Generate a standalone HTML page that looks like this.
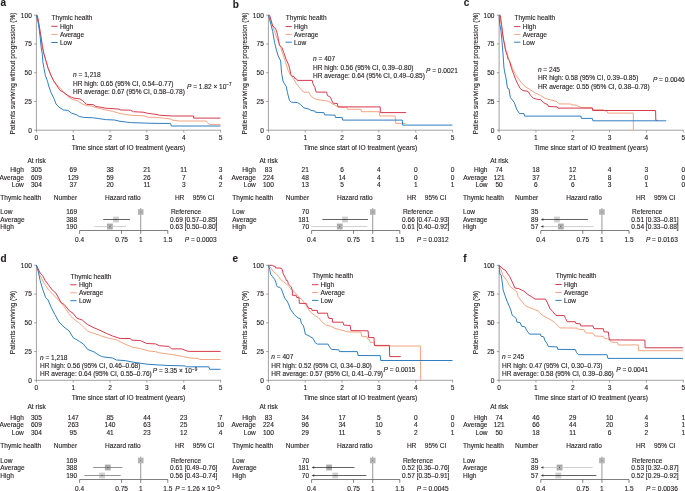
<!DOCTYPE html>
<html><head><meta charset="utf-8"><style>
html,body{margin:0;padding:0;background:#fff;width:685px;height:491px;overflow:hidden}
svg{display:block;will-change:transform}
svg{font-family:"Liberation Sans",sans-serif;font-size:6.55px;fill:#231f20} text{stroke:#231f20;stroke-width:0.12px}
</style></head><body>
<svg width="685" height="491" viewBox="0 0 685 491">
<rect width="685" height="491" fill="#fff"/>
<text x="0.40" y="6.20" font-weight="bold" font-size="10">a</text>
<line x1="36.40" y1="14.80" x2="36.40" y2="130.60" stroke="#8a8a8a" stroke-width="0.8"/>
<line x1="36.00" y1="130.20" x2="220.95" y2="130.20" stroke="#8a8a8a" stroke-width="0.8"/>
<line x1="34.20" y1="130.20" x2="36.40" y2="130.20" stroke="#8a8a8a" stroke-width="0.8"/>
<text x="31.80" y="132.50" text-anchor="end">0</text>
<line x1="34.20" y1="101.45" x2="36.40" y2="101.45" stroke="#8a8a8a" stroke-width="0.8"/>
<text x="31.80" y="103.75" text-anchor="end">25</text>
<line x1="34.20" y1="72.70" x2="36.40" y2="72.70" stroke="#8a8a8a" stroke-width="0.8"/>
<text x="31.80" y="75.00" text-anchor="end">50</text>
<line x1="34.20" y1="43.95" x2="36.40" y2="43.95" stroke="#8a8a8a" stroke-width="0.8"/>
<text x="31.80" y="46.25" text-anchor="end">75</text>
<line x1="34.20" y1="15.20" x2="36.40" y2="15.20" stroke="#8a8a8a" stroke-width="0.8"/>
<text x="31.80" y="17.50" text-anchor="end">100</text>
<line x1="36.40" y1="130.20" x2="36.40" y2="132.40" stroke="#8a8a8a" stroke-width="0.8"/>
<text x="36.40" y="139.80" text-anchor="middle">0</text>
<line x1="73.23" y1="130.20" x2="73.23" y2="132.40" stroke="#8a8a8a" stroke-width="0.8"/>
<text x="73.23" y="139.80" text-anchor="middle">1</text>
<line x1="110.06" y1="130.20" x2="110.06" y2="132.40" stroke="#8a8a8a" stroke-width="0.8"/>
<text x="110.06" y="139.80" text-anchor="middle">2</text>
<line x1="146.89" y1="130.20" x2="146.89" y2="132.40" stroke="#8a8a8a" stroke-width="0.8"/>
<text x="146.89" y="139.80" text-anchor="middle">3</text>
<line x1="183.72" y1="130.20" x2="183.72" y2="132.40" stroke="#8a8a8a" stroke-width="0.8"/>
<text x="183.72" y="139.80" text-anchor="middle">4</text>
<line x1="220.55" y1="130.20" x2="220.55" y2="132.40" stroke="#8a8a8a" stroke-width="0.8"/>
<text x="220.55" y="139.80" text-anchor="middle">5</text>
<text x="128.47" y="149.70" text-anchor="middle">Time since start of IO treatment (years)</text>
<text x="15.10" y="73.50" text-anchor="middle" transform="rotate(-90 15.10 73.50)">Patients surviving without progression (%)</text>
<text x="51.60" y="19.80">Thymic health</text>
<line x1="51.30" y1="26.30" x2="57.60" y2="26.30" stroke="#d63a4e" stroke-width="1.0"/>
<text x="59.90" y="28.60">High</text>
<line x1="51.30" y1="34.40" x2="57.60" y2="34.40" stroke="#f4a582" stroke-width="1.0"/>
<text x="59.90" y="36.70">Average</text>
<line x1="51.30" y1="42.50" x2="57.60" y2="42.50" stroke="#2f7fc0" stroke-width="1.0"/>
<text x="59.90" y="44.80">Low</text>
<text x="73.10" y="77.20"><tspan font-style="italic">n</tspan> = 1,218</text>
<text x="73.10" y="85.50">HR high: 0.65 (95% CI, 0.54–0.77)</text>
<text x="73.10" y="93.80">HR average: 0.67 (95% CI, 0.58–0.78)</text>
<text x="187.00" y="88.60"><tspan font-style="italic">P</tspan> = 1.82 × 10<tspan dy="-2.6" font-size="4.6">−7</tspan></text>
<polyline points="36.4,15.2 37.3,15.5 38.9,24.2 40.9,36.4 42.5,47.1 44.0,54.2 46.1,61.4 48.2,68.5 51.1,75.6 53.9,81.3 56.8,84.8 60.0,87.6 63.5,92.0 67.9,96.4 72.3,99.4 77.5,100.8 81.9,103.8 86.3,105.6 91.5,106.0 96.8,107.8 103.8,109.5 112.5,111.3 120.0,113.5 130.5,115.2 143.1,115.8 147.9,117.2 156.0,117.4 164.7,118.3 170.9,119.1 171.9,120.0 179.1,121.0 206.1,121.0 208.0,123.4 209.5,124.4 220.5,124.4" fill="none" stroke="#f4a582" stroke-width="1.0" stroke-linejoin="round"/>
<polyline points="36.4,15.2 37.3,15.5 38.9,24.2 40.9,36.4 42.5,47.1 44.0,54.2 46.1,61.4 48.2,68.5 51.1,75.6 53.9,81.3 56.8,85.6 60.0,90.3 63.5,92.4 67.9,95.5 71.4,97.3 74.0,98.1 80.1,99.0 82.8,100.8 86.3,104.3 93.3,104.7 95.9,106.5 101.2,107.3 105.5,108.2 119.0,109.1 120.9,110.0 130.5,110.2 133.4,111.7 143.1,112.2 147.9,113.3 153.7,114.1 156.0,114.3 159.4,115.2 172.9,116.0 193.6,116.0 193.6,118.1 220.5,118.1" fill="none" stroke="#d63a4e" stroke-width="1.0" stroke-linejoin="round"/>
<polyline points="36.4,15.2 38.5,24.2 40.1,36.4 41.1,47.1 42.3,54.2 42.8,61.4 44.0,68.5 45.4,75.6 47.5,81.3 49.0,87.0 51.1,92.7 53.9,98.4 56.1,104.1 58.9,107.0 60.0,107.8 63.5,110.0 67.9,110.4 71.4,113.0 76.6,114.8 79.3,116.5 83.6,117.4 93.3,117.8 99.4,118.7 105.5,119.6 114.3,120.0 120.0,121.3 130.5,122.6 147.9,123.2 158.0,123.4 170.5,123.4 171.4,126.0 220.5,126.0" fill="none" stroke="#2f7fc0" stroke-width="1.0" stroke-linejoin="round"/>
<text x="27.50" y="162.60">At risk</text>
<text x="23.80" y="172.00" text-anchor="end">High</text>
<text x="36.40" y="172.00" text-anchor="middle">305</text>
<text x="73.23" y="172.00" text-anchor="middle">69</text>
<text x="110.06" y="172.00" text-anchor="middle">38</text>
<text x="146.89" y="172.00" text-anchor="middle">21</text>
<text x="183.72" y="172.00" text-anchor="middle">11</text>
<text x="220.55" y="172.00" text-anchor="middle">3</text>
<text x="23.80" y="179.55" text-anchor="end">Average</text>
<text x="36.40" y="179.55" text-anchor="middle">609</text>
<text x="73.23" y="179.55" text-anchor="middle">129</text>
<text x="110.06" y="179.55" text-anchor="middle">59</text>
<text x="146.89" y="179.55" text-anchor="middle">26</text>
<text x="183.72" y="179.55" text-anchor="middle">7</text>
<text x="220.55" y="179.55" text-anchor="middle">4</text>
<text x="23.80" y="187.10" text-anchor="end">Low</text>
<text x="36.40" y="187.10" text-anchor="middle">304</text>
<text x="73.23" y="187.10" text-anchor="middle">37</text>
<text x="110.06" y="187.10" text-anchor="middle">20</text>
<text x="146.89" y="187.10" text-anchor="middle">11</text>
<text x="183.72" y="187.10" text-anchor="middle">3</text>
<text x="220.55" y="187.10" text-anchor="middle">2</text>
<text x="0.35" y="199.70">Thymic health</text>
<text x="77.10" y="199.70" text-anchor="end">Number</text>
<text x="122.80" y="199.70" text-anchor="middle">Hazard ratio</text>
<text x="174.90" y="199.70">HR</text>
<text x="192.80" y="199.70">95% CI</text>
<text x="0.35" y="214.30">Low</text>
<text x="77.10" y="214.30" text-anchor="end">169</text>
<text x="0.35" y="221.60">Average</text>
<text x="77.10" y="221.60" text-anchor="end">388</text>
<text x="0.35" y="228.80">High</text>
<text x="77.10" y="228.80" text-anchor="end">190</text>
<line x1="79.60" y1="230.50" x2="167.80" y2="230.50" stroke="#555" stroke-width="0.75"/>
<line x1="79.60" y1="230.50" x2="79.60" y2="233.80" stroke="#555" stroke-width="0.75"/>
<text x="79.60" y="242.30" text-anchor="middle">0.4</text>
<line x1="121.55" y1="230.50" x2="121.55" y2="233.80" stroke="#555" stroke-width="0.75"/>
<text x="121.55" y="242.30" text-anchor="middle">0.75</text>
<line x1="140.74" y1="230.50" x2="140.74" y2="233.80" stroke="#555" stroke-width="0.75"/>
<text x="140.74" y="242.30" text-anchor="middle">1</text>
<line x1="167.80" y1="230.50" x2="167.80" y2="233.80" stroke="#555" stroke-width="0.75"/>
<text x="167.80" y="242.30" text-anchor="middle">1.5</text>
<line x1="140.74" y1="208.10" x2="140.74" y2="230.50" stroke="#777" stroke-width="0.75"/>
<rect x="137.94" y="209.20" width="5.60" height="5.60" fill="#b3b3b3"/>
<circle cx="140.74" cy="212.00" r="0.45" fill="#555"/>
<text x="170.90" y="214.30">Reference</text>
<rect x="113.08" y="216.60" width="5.80" height="5.80" fill="#cfcfcf"/>
<line x1="103.23" y1="219.50" x2="129.90" y2="219.50" stroke="#3a3a3a" stroke-width="0.8"/>
<circle cx="115.98" cy="219.50" r="0.5" fill="#333"/>
<text x="170.10" y="221.60">0.69 [0.57–0.85]</text>
<rect x="107.01" y="223.60" width="5.80" height="5.80" fill="#a9a9a9"/>
<line x1="94.49" y1="226.50" x2="125.85" y2="226.50" stroke="#c4c4c4" stroke-width="0.8"/>
<circle cx="109.91" cy="226.50" r="0.5" fill="#333"/>
<text x="170.10" y="228.80">0.63 [0.50–0.80]</text>
<text x="216.60" y="242.30" text-anchor="end"><tspan font-style="italic">P</tspan> = 0.0003</text>
<text x="232.80" y="8.00" font-weight="bold" font-size="10">b</text>
<line x1="268.40" y1="14.80" x2="268.40" y2="130.60" stroke="#8a8a8a" stroke-width="0.8"/>
<line x1="268.00" y1="130.20" x2="452.95" y2="130.20" stroke="#8a8a8a" stroke-width="0.8"/>
<line x1="266.20" y1="130.20" x2="268.40" y2="130.20" stroke="#8a8a8a" stroke-width="0.8"/>
<text x="263.80" y="132.50" text-anchor="end">0</text>
<line x1="266.20" y1="101.45" x2="268.40" y2="101.45" stroke="#8a8a8a" stroke-width="0.8"/>
<text x="263.80" y="103.75" text-anchor="end">25</text>
<line x1="266.20" y1="72.70" x2="268.40" y2="72.70" stroke="#8a8a8a" stroke-width="0.8"/>
<text x="263.80" y="75.00" text-anchor="end">50</text>
<line x1="266.20" y1="43.95" x2="268.40" y2="43.95" stroke="#8a8a8a" stroke-width="0.8"/>
<text x="263.80" y="46.25" text-anchor="end">75</text>
<line x1="266.20" y1="15.20" x2="268.40" y2="15.20" stroke="#8a8a8a" stroke-width="0.8"/>
<text x="263.80" y="17.50" text-anchor="end">100</text>
<line x1="268.40" y1="130.20" x2="268.40" y2="132.40" stroke="#8a8a8a" stroke-width="0.8"/>
<text x="268.40" y="139.80" text-anchor="middle">0</text>
<line x1="305.23" y1="130.20" x2="305.23" y2="132.40" stroke="#8a8a8a" stroke-width="0.8"/>
<text x="305.23" y="139.80" text-anchor="middle">1</text>
<line x1="342.06" y1="130.20" x2="342.06" y2="132.40" stroke="#8a8a8a" stroke-width="0.8"/>
<text x="342.06" y="139.80" text-anchor="middle">2</text>
<line x1="378.89" y1="130.20" x2="378.89" y2="132.40" stroke="#8a8a8a" stroke-width="0.8"/>
<text x="378.89" y="139.80" text-anchor="middle">3</text>
<line x1="415.72" y1="130.20" x2="415.72" y2="132.40" stroke="#8a8a8a" stroke-width="0.8"/>
<text x="415.72" y="139.80" text-anchor="middle">4</text>
<line x1="452.55" y1="130.20" x2="452.55" y2="132.40" stroke="#8a8a8a" stroke-width="0.8"/>
<text x="452.55" y="139.80" text-anchor="middle">5</text>
<text x="360.47" y="149.70" text-anchor="middle">Time since start of IO treatment (years)</text>
<text x="247.10" y="73.50" text-anchor="middle" transform="rotate(-90 247.10 73.50)">Patients surviving without progression (%)</text>
<text x="285.80" y="19.75">Thymic health</text>
<line x1="285.50" y1="26.60" x2="291.80" y2="26.60" stroke="#d63a4e" stroke-width="1.0"/>
<text x="294.10" y="28.90">High</text>
<line x1="285.50" y1="34.40" x2="291.80" y2="34.40" stroke="#f4a582" stroke-width="1.0"/>
<text x="294.10" y="36.70">Average</text>
<line x1="285.50" y1="42.20" x2="291.80" y2="42.20" stroke="#2f7fc0" stroke-width="1.0"/>
<text x="294.10" y="44.50">Low</text>
<text x="313.10" y="61.20"><tspan font-style="italic">n</tspan> = 407</text>
<text x="313.10" y="69.50">HR high: 0.56 (95% CI, 0.39–0.80)</text>
<text x="313.10" y="77.80">HR average: 0.64 (95% CI, 0.49–0.85)</text>
<text x="426.00" y="72.60"><tspan font-style="italic">P</tspan> = 0.0021</text>
<polyline points="268.4,15.2 269.0,15.4 273.3,27.9 275.8,35.2 278.2,41.3 280.7,47.5 283.1,54.8 285.6,62.1 286.6,66.0 288.2,70.5 290.1,74.5 293.4,78.4 296.0,83.2 298.9,86.8 301.9,90.5 304.1,92.2 308.8,92.3 309.9,94.2 312.1,97.1 315.1,98.9 318.0,99.8 325.3,100.5 329.0,101.5 330.5,102.6 332.7,104.1 335.6,105.5 337.8,106.6 340.0,107.3 347.0,107.3 347.5,109.3 361.0,109.3 361.5,111.7 379.3,111.7 379.8,116.0 395.2,116.0 395.7,123.4 405.6,123.4" fill="none" stroke="#f4a582" stroke-width="1.0" stroke-linejoin="round"/>
<polyline points="268.4,15.2 269.7,15.4 272.7,26.1 274.6,27.3 276.4,30.3 277.6,35.2 278.2,38.3 279.4,45.0 281.9,47.5 283.7,52.3 286.2,59.7 288.6,64.6 289.5,68.0 290.4,72.0 290.8,74.5 292.1,76.1 294.0,76.5 294.7,78.4 296.6,79.1 297.3,80.4 312.3,80.4 312.9,83.6 314.9,87.6 316.2,92.1 326.6,92.1 327.3,95.4 330.5,97.3 331.8,100.6 333.1,103.2 337.4,103.5 337.9,106.9 380.2,106.9 380.4,112.6 406.1,112.6" fill="none" stroke="#d63a4e" stroke-width="1.0" stroke-linejoin="round"/>
<polyline points="268.4,15.2 270.9,24.2 272.7,31.6 274.6,42.6 276.4,49.9 278.2,56.0 280.7,60.9 281.2,68.0 281.6,73.2 283.0,81.0 284.3,83.6 286.2,86.3 287.5,92.8 289.5,100.6 291.4,102.2 297.3,102.5 300.5,104.5 303.8,107.8 309.0,109.1 311.0,110.4 314.9,111.0 315.5,112.3 324.0,112.7 324.7,114.9 335.0,115.2 335.4,117.5 342.2,117.5 342.7,120.1 402.3,120.1 402.6,125.1 452.4,125.1" fill="none" stroke="#2f7fc0" stroke-width="1.0" stroke-linejoin="round"/>
<text x="259.50" y="162.60">At risk</text>
<text x="255.80" y="172.00" text-anchor="end">High</text>
<text x="268.40" y="172.00" text-anchor="middle">83</text>
<text x="305.23" y="172.00" text-anchor="middle">21</text>
<text x="342.06" y="172.00" text-anchor="middle">6</text>
<text x="378.89" y="172.00" text-anchor="middle">4</text>
<text x="415.72" y="172.00" text-anchor="middle">0</text>
<text x="452.55" y="172.00" text-anchor="middle">0</text>
<text x="255.80" y="179.55" text-anchor="end">Average</text>
<text x="268.40" y="179.55" text-anchor="middle">224</text>
<text x="305.23" y="179.55" text-anchor="middle">48</text>
<text x="342.06" y="179.55" text-anchor="middle">14</text>
<text x="378.89" y="179.55" text-anchor="middle">4</text>
<text x="415.72" y="179.55" text-anchor="middle">0</text>
<text x="452.55" y="179.55" text-anchor="middle">0</text>
<text x="255.80" y="187.10" text-anchor="end">Low</text>
<text x="268.40" y="187.10" text-anchor="middle">100</text>
<text x="305.23" y="187.10" text-anchor="middle">13</text>
<text x="342.06" y="187.10" text-anchor="middle">5</text>
<text x="378.89" y="187.10" text-anchor="middle">4</text>
<text x="415.72" y="187.10" text-anchor="middle">1</text>
<text x="452.55" y="187.10" text-anchor="middle">1</text>
<text x="232.35" y="199.70">Thymic health</text>
<text x="309.10" y="199.70" text-anchor="end">Number</text>
<text x="354.80" y="199.70" text-anchor="middle">Hazard ratio</text>
<text x="406.90" y="199.70">HR</text>
<text x="424.80" y="199.70">95% CI</text>
<text x="232.35" y="214.30">Low</text>
<text x="309.10" y="214.30" text-anchor="end">70</text>
<text x="232.35" y="221.60">Average</text>
<text x="309.10" y="221.60" text-anchor="end">181</text>
<text x="232.35" y="228.80">High</text>
<text x="309.10" y="228.80" text-anchor="end">70</text>
<line x1="311.60" y1="230.50" x2="399.80" y2="230.50" stroke="#555" stroke-width="0.75"/>
<line x1="311.60" y1="230.50" x2="311.60" y2="233.80" stroke="#555" stroke-width="0.75"/>
<text x="311.60" y="242.30" text-anchor="middle">0.4</text>
<line x1="353.55" y1="230.50" x2="353.55" y2="233.80" stroke="#555" stroke-width="0.75"/>
<text x="353.55" y="242.30" text-anchor="middle">0.75</text>
<line x1="372.74" y1="230.50" x2="372.74" y2="233.80" stroke="#555" stroke-width="0.75"/>
<text x="372.74" y="242.30" text-anchor="middle">1</text>
<line x1="399.80" y1="230.50" x2="399.80" y2="233.80" stroke="#555" stroke-width="0.75"/>
<text x="399.80" y="242.30" text-anchor="middle">1.5</text>
<line x1="372.74" y1="208.10" x2="372.74" y2="230.50" stroke="#777" stroke-width="0.75"/>
<rect x="369.94" y="209.20" width="5.60" height="5.60" fill="#b3b3b3"/>
<circle cx="372.74" cy="212.00" r="0.45" fill="#555"/>
<text x="402.90" y="214.30">Reference</text>
<rect x="342.12" y="216.60" width="5.80" height="5.80" fill="#cfcfcf"/>
<line x1="322.36" y1="219.50" x2="367.90" y2="219.50" stroke="#3a3a3a" stroke-width="0.8"/>
<circle cx="345.02" cy="219.50" r="0.5" fill="#333"/>
<text x="402.10" y="221.60">0.66 [0.47–0.93]</text>
<rect x="336.86" y="223.60" width="5.80" height="5.80" fill="#a9a9a9"/>
<line x1="311.60" y1="226.50" x2="367.18" y2="226.50" stroke="#c4c4c4" stroke-width="0.8"/>
<circle cx="339.76" cy="226.50" r="0.5" fill="#333"/>
<text x="402.10" y="228.80">0.61 [0.40–0.92]</text>
<text x="448.60" y="242.30" text-anchor="end"><tspan font-style="italic">P</tspan> = 0.0312</text>
<text x="463.70" y="6.20" font-weight="bold" font-size="10">c</text>
<line x1="499.10" y1="14.80" x2="499.10" y2="130.60" stroke="#8a8a8a" stroke-width="0.8"/>
<line x1="498.70" y1="130.20" x2="683.65" y2="130.20" stroke="#8a8a8a" stroke-width="0.8"/>
<line x1="496.90" y1="130.20" x2="499.10" y2="130.20" stroke="#8a8a8a" stroke-width="0.8"/>
<text x="494.50" y="132.50" text-anchor="end">0</text>
<line x1="496.90" y1="101.45" x2="499.10" y2="101.45" stroke="#8a8a8a" stroke-width="0.8"/>
<text x="494.50" y="103.75" text-anchor="end">25</text>
<line x1="496.90" y1="72.70" x2="499.10" y2="72.70" stroke="#8a8a8a" stroke-width="0.8"/>
<text x="494.50" y="75.00" text-anchor="end">50</text>
<line x1="496.90" y1="43.95" x2="499.10" y2="43.95" stroke="#8a8a8a" stroke-width="0.8"/>
<text x="494.50" y="46.25" text-anchor="end">75</text>
<line x1="496.90" y1="15.20" x2="499.10" y2="15.20" stroke="#8a8a8a" stroke-width="0.8"/>
<text x="494.50" y="17.50" text-anchor="end">100</text>
<line x1="499.10" y1="130.20" x2="499.10" y2="132.40" stroke="#8a8a8a" stroke-width="0.8"/>
<text x="499.10" y="139.80" text-anchor="middle">0</text>
<line x1="535.93" y1="130.20" x2="535.93" y2="132.40" stroke="#8a8a8a" stroke-width="0.8"/>
<text x="535.93" y="139.80" text-anchor="middle">1</text>
<line x1="572.76" y1="130.20" x2="572.76" y2="132.40" stroke="#8a8a8a" stroke-width="0.8"/>
<text x="572.76" y="139.80" text-anchor="middle">2</text>
<line x1="609.59" y1="130.20" x2="609.59" y2="132.40" stroke="#8a8a8a" stroke-width="0.8"/>
<text x="609.59" y="139.80" text-anchor="middle">3</text>
<line x1="646.42" y1="130.20" x2="646.42" y2="132.40" stroke="#8a8a8a" stroke-width="0.8"/>
<text x="646.42" y="139.80" text-anchor="middle">4</text>
<line x1="683.25" y1="130.20" x2="683.25" y2="132.40" stroke="#8a8a8a" stroke-width="0.8"/>
<text x="683.25" y="139.80" text-anchor="middle">5</text>
<text x="591.17" y="149.70" text-anchor="middle">Time since start of IO treatment (years)</text>
<text x="477.80" y="73.50" text-anchor="middle" transform="rotate(-90 477.80 73.50)">Patients surviving without progression (%)</text>
<text x="514.40" y="19.75">Thymic health</text>
<line x1="514.10" y1="26.60" x2="520.40" y2="26.60" stroke="#d63a4e" stroke-width="1.0"/>
<text x="522.70" y="28.90">High</text>
<line x1="514.10" y1="34.40" x2="520.40" y2="34.40" stroke="#f4a582" stroke-width="1.0"/>
<text x="522.70" y="36.70">Average</text>
<line x1="514.10" y1="42.20" x2="520.40" y2="42.20" stroke="#2f7fc0" stroke-width="1.0"/>
<text x="522.70" y="44.50">Low</text>
<text x="537.90" y="71.90"><tspan font-style="italic">n</tspan> = 245</text>
<text x="537.90" y="80.20">HR high: 0.58 (95% CI, 0.39–0.85)</text>
<text x="537.90" y="88.50">HR average: 0.55 (95% CI, 0.38–0.78)</text>
<text x="652.90" y="82.40"><tspan font-style="italic">P</tspan> = 0.0046</text>
<polyline points="499.1,15.2 499.7,15.4 501.5,26.7 503.3,38.9 505.2,48.7 507.0,52.3 508.2,57.2 509.4,60.9 511.3,64.6 512.4,68.0 515.6,74.5 520.1,81.0 524.7,86.3 529.9,89.5 535.1,92.8 540.3,95.4 545.5,98.6 550.8,99.9 556.0,101.2 559.2,103.9 571.2,104.0 571.7,104.9 577.0,105.2 578.0,106.4 580.4,106.9 580.9,107.6 592.4,107.6 592.9,109.7 603.5,109.7 604.5,110.7 606.9,111.2 607.8,113.1 633.3,113.1 633.4,130.2" fill="none" stroke="#f4a582" stroke-width="1.0" stroke-linejoin="round"/>
<polyline points="499.1,15.2 500.3,15.4 501.5,24.2 502.7,34.0 503.7,40.0 505.8,51.4 507.3,55.7 508.0,59.2 509.4,60.7 511.5,68.5 513.7,74.2 515.8,79.9 517.9,84.2 520.1,88.4 522.9,90.6 527.9,91.3 530.8,95.6 533.6,98.4 536.5,99.1 540.7,99.8 543.6,102.7 547.9,104.8 548.4,106.5 557.3,106.9 557.9,108.1 592.4,108.1 592.7,110.5 655.6,110.5 655.8,120.4 657.8,120.4" fill="none" stroke="#d63a4e" stroke-width="1.0" stroke-linejoin="round"/>
<polyline points="499.1,15.2 499.7,24.2 500.9,30.3 502.1,42.6 503.1,54.8 503.9,67.0 504.6,71.9 505.8,77.1 507.5,88.2 509.0,88.9 510.3,97.3 512.3,99.9 514.3,102.6 516.9,109.7 519.5,113.6 524.0,113.6 524.7,116.1 580.9,116.1 581.3,118.4 592.4,118.4 592.9,120.8 666.2,120.8" fill="none" stroke="#2f7fc0" stroke-width="1.0" stroke-linejoin="round"/>
<text x="490.20" y="162.60">At risk</text>
<text x="487.50" y="172.00" text-anchor="end">High</text>
<text x="499.10" y="172.00" text-anchor="middle">74</text>
<text x="535.93" y="172.00" text-anchor="middle">18</text>
<text x="572.76" y="172.00" text-anchor="middle">12</text>
<text x="609.59" y="172.00" text-anchor="middle">4</text>
<text x="646.42" y="172.00" text-anchor="middle">3</text>
<text x="683.25" y="172.00" text-anchor="middle">0</text>
<text x="487.50" y="179.55" text-anchor="end">Average</text>
<text x="499.10" y="179.55" text-anchor="middle">121</text>
<text x="535.93" y="179.55" text-anchor="middle">37</text>
<text x="572.76" y="179.55" text-anchor="middle">21</text>
<text x="609.59" y="179.55" text-anchor="middle">8</text>
<text x="646.42" y="179.55" text-anchor="middle">0</text>
<text x="683.25" y="179.55" text-anchor="middle">0</text>
<text x="487.50" y="187.10" text-anchor="end">Low</text>
<text x="499.10" y="187.10" text-anchor="middle">50</text>
<text x="535.93" y="187.10" text-anchor="middle">6</text>
<text x="572.76" y="187.10" text-anchor="middle">6</text>
<text x="609.59" y="187.10" text-anchor="middle">3</text>
<text x="646.42" y="187.10" text-anchor="middle">1</text>
<text x="683.25" y="187.10" text-anchor="middle">0</text>
<text x="463.05" y="199.70">Thymic health</text>
<text x="538.30" y="199.70" text-anchor="end">Number</text>
<text x="584.00" y="199.70" text-anchor="middle">Hazard ratio</text>
<text x="636.10" y="199.70">HR</text>
<text x="654.00" y="199.70">95% CI</text>
<text x="463.05" y="214.30">Low</text>
<text x="538.30" y="214.30" text-anchor="end">35</text>
<text x="463.05" y="221.60">Average</text>
<text x="538.30" y="221.60" text-anchor="end">89</text>
<text x="463.05" y="228.80">High</text>
<text x="538.30" y="228.80" text-anchor="end">57</text>
<line x1="540.80" y1="230.50" x2="629.00" y2="230.50" stroke="#555" stroke-width="0.75"/>
<line x1="540.80" y1="230.50" x2="540.80" y2="233.80" stroke="#555" stroke-width="0.75"/>
<text x="540.80" y="242.30" text-anchor="middle">0.4</text>
<line x1="582.75" y1="230.50" x2="582.75" y2="233.80" stroke="#555" stroke-width="0.75"/>
<text x="582.75" y="242.30" text-anchor="middle">0.75</text>
<line x1="601.94" y1="230.50" x2="601.94" y2="233.80" stroke="#555" stroke-width="0.75"/>
<text x="601.94" y="242.30" text-anchor="middle">1</text>
<line x1="629.00" y1="230.50" x2="629.00" y2="233.80" stroke="#555" stroke-width="0.75"/>
<text x="629.00" y="242.30" text-anchor="middle">1.5</text>
<line x1="601.94" y1="208.10" x2="601.94" y2="230.50" stroke="#777" stroke-width="0.75"/>
<rect x="599.14" y="209.20" width="5.60" height="5.60" fill="#b3b3b3"/>
<circle cx="601.94" cy="212.00" r="0.45" fill="#555"/>
<text x="632.10" y="214.30">Reference</text>
<rect x="554.11" y="216.60" width="5.80" height="5.80" fill="#cfcfcf"/>
<line x1="542.30" y1="219.50" x2="587.88" y2="219.50" stroke="#3a3a3a" stroke-width="0.8"/>
<path d="M540.80,219.50 L543.40,218.30 L543.40,220.70 Z" fill="#3a3a3a"/>
<circle cx="557.01" cy="219.50" r="0.5" fill="#333"/>
<text x="631.30" y="221.60">0.51 [0.33–0.81]</text>
<rect x="557.93" y="223.60" width="5.80" height="5.80" fill="#a9a9a9"/>
<line x1="542.30" y1="226.50" x2="593.41" y2="226.50" stroke="#c4c4c4" stroke-width="0.8"/>
<path d="M540.80,226.50 L543.40,225.30 L543.40,227.70 Z" fill="#3a3a3a"/>
<circle cx="560.83" cy="226.50" r="0.5" fill="#333"/>
<text x="631.30" y="228.80">0.54 [0.33–0.88]</text>
<text x="677.80" y="242.30" text-anchor="end"><tspan font-style="italic">P</tspan> = 0.0163</text>
<text x="0.40" y="262.30" font-weight="bold" font-size="10">d</text>
<line x1="36.40" y1="264.90" x2="36.40" y2="380.70" stroke="#8a8a8a" stroke-width="0.8"/>
<line x1="36.00" y1="380.30" x2="220.95" y2="380.30" stroke="#8a8a8a" stroke-width="0.8"/>
<line x1="34.20" y1="380.30" x2="36.40" y2="380.30" stroke="#8a8a8a" stroke-width="0.8"/>
<text x="31.80" y="382.60" text-anchor="end">0</text>
<line x1="34.20" y1="351.55" x2="36.40" y2="351.55" stroke="#8a8a8a" stroke-width="0.8"/>
<text x="31.80" y="353.85" text-anchor="end">25</text>
<line x1="34.20" y1="322.80" x2="36.40" y2="322.80" stroke="#8a8a8a" stroke-width="0.8"/>
<text x="31.80" y="325.10" text-anchor="end">50</text>
<line x1="34.20" y1="294.05" x2="36.40" y2="294.05" stroke="#8a8a8a" stroke-width="0.8"/>
<text x="31.80" y="296.35" text-anchor="end">75</text>
<line x1="34.20" y1="265.30" x2="36.40" y2="265.30" stroke="#8a8a8a" stroke-width="0.8"/>
<text x="31.80" y="267.60" text-anchor="end">100</text>
<line x1="36.40" y1="380.30" x2="36.40" y2="382.50" stroke="#8a8a8a" stroke-width="0.8"/>
<text x="36.40" y="389.90" text-anchor="middle">0</text>
<line x1="73.23" y1="380.30" x2="73.23" y2="382.50" stroke="#8a8a8a" stroke-width="0.8"/>
<text x="73.23" y="389.90" text-anchor="middle">1</text>
<line x1="110.06" y1="380.30" x2="110.06" y2="382.50" stroke="#8a8a8a" stroke-width="0.8"/>
<text x="110.06" y="389.90" text-anchor="middle">2</text>
<line x1="146.89" y1="380.30" x2="146.89" y2="382.50" stroke="#8a8a8a" stroke-width="0.8"/>
<text x="146.89" y="389.90" text-anchor="middle">3</text>
<line x1="183.72" y1="380.30" x2="183.72" y2="382.50" stroke="#8a8a8a" stroke-width="0.8"/>
<text x="183.72" y="389.90" text-anchor="middle">4</text>
<line x1="220.55" y1="380.30" x2="220.55" y2="382.50" stroke="#8a8a8a" stroke-width="0.8"/>
<text x="220.55" y="389.90" text-anchor="middle">5</text>
<text x="128.47" y="399.80" text-anchor="middle">Time since start of IO treatment (years)</text>
<text x="15.10" y="322.50" text-anchor="middle" transform="rotate(-90 15.10 322.50)">Patients surviving (%)</text>
<text x="70.60" y="278.50">Thymic health</text>
<line x1="70.30" y1="284.80" x2="76.60" y2="284.80" stroke="#d63a4e" stroke-width="1.0"/>
<text x="78.90" y="287.10">High</text>
<line x1="70.30" y1="292.80" x2="76.60" y2="292.80" stroke="#f4a582" stroke-width="1.0"/>
<text x="78.90" y="295.10">Average</text>
<line x1="70.30" y1="300.70" x2="76.60" y2="300.70" stroke="#2f7fc0" stroke-width="1.0"/>
<text x="78.90" y="303.00">Low</text>
<text x="40.00" y="359.60"><tspan font-style="italic">n</tspan> = 1,218</text>
<text x="40.00" y="367.90">HR high: 0.56 (95% CI, 0.46–0.68)</text>
<text x="40.00" y="376.20">HR average: 0.64 (95% CI, 0.55–0.76)</text>
<text x="152.70" y="373.20"><tspan font-style="italic">P</tspan> = 3.35 × 10<tspan dy="-2.6" font-size="4.6">−9</tspan></text>
<polyline points="36.4,265.3 39.5,274.2 43.8,282.8 48.7,290.1 53.5,295.0 58.4,299.9 63.3,305.4 67.0,310.9 70.6,315.8 72.5,318.0 75.7,320.6 79.6,323.2 83.5,327.1 87.5,331.0 92.7,333.0 99.2,335.0 100.0,335.6 107.6,337.9 116.4,339.8 125.2,344.2 132.8,347.3 140.4,348.6 149.2,351.1 155.5,351.7 159.3,352.8 173.2,354.7 183.4,356.6 190.7,358.1 198.0,358.4 199.5,359.5 220.6,359.5" fill="none" stroke="#f4a582" stroke-width="1.0" stroke-linejoin="round"/>
<polyline points="36.4,265.3 40.1,273.0 42.6,275.4 45.0,280.3 48.7,285.2 52.3,290.1 56.0,293.2 60.9,302.3 64.5,304.8 69.4,310.9 73.1,313.3 76.8,318.2 82.2,320.0 87.5,324.5 94.0,327.8 100.0,330.3 106.3,333.4 112.6,336.0 120.2,338.5 130.3,338.5 131.5,340.1 140.4,340.6 146.7,343.5 155.5,343.9 159.3,345.7 168.8,346.4 171.7,348.9 181.9,348.9 186.3,350.8 189.2,351.4 220.6,351.4" fill="none" stroke="#d63a4e" stroke-width="1.0" stroke-linejoin="round"/>
<polyline points="36.4,265.3 38.3,271.8 40.1,280.3 42.6,288.9 45.6,297.4 48.0,299.9 51.1,307.2 54.8,314.5 56.8,318.0 59.0,322.0 64.0,327.1 69.2,331.0 73.1,337.6 79.6,341.5 83.5,344.1 87.5,349.3 94.0,351.9 97.9,354.5 101.5,356.5 103.8,357.0 112.6,358.0 116.4,360.0 125.2,360.6 132.3,362.0 146.9,364.2 165.9,365.4 184.9,365.9 186.3,366.8 208.9,366.8 209.7,369.3 220.6,369.3" fill="none" stroke="#2f7fc0" stroke-width="1.0" stroke-linejoin="round"/>
<text x="27.50" y="409.30">At risk</text>
<text x="23.80" y="419.70" text-anchor="end">High</text>
<text x="36.40" y="419.70" text-anchor="middle">305</text>
<text x="73.23" y="419.70" text-anchor="middle">147</text>
<text x="110.06" y="419.70" text-anchor="middle">85</text>
<text x="146.89" y="419.70" text-anchor="middle">44</text>
<text x="183.72" y="419.70" text-anchor="middle">23</text>
<text x="220.55" y="419.70" text-anchor="middle">7</text>
<text x="23.80" y="427.35" text-anchor="end">Average</text>
<text x="36.40" y="427.35" text-anchor="middle">609</text>
<text x="73.23" y="427.35" text-anchor="middle">263</text>
<text x="110.06" y="427.35" text-anchor="middle">140</text>
<text x="146.89" y="427.35" text-anchor="middle">63</text>
<text x="183.72" y="427.35" text-anchor="middle">25</text>
<text x="220.55" y="427.35" text-anchor="middle">10</text>
<text x="23.80" y="435.00" text-anchor="end">Low</text>
<text x="36.40" y="435.00" text-anchor="middle">304</text>
<text x="73.23" y="435.00" text-anchor="middle">95</text>
<text x="110.06" y="435.00" text-anchor="middle">41</text>
<text x="146.89" y="435.00" text-anchor="middle">23</text>
<text x="183.72" y="435.00" text-anchor="middle">12</text>
<text x="220.55" y="435.00" text-anchor="middle">4</text>
<text x="0.35" y="447.90">Thymic health</text>
<text x="77.10" y="447.90" text-anchor="end">Number</text>
<text x="122.80" y="447.90" text-anchor="middle">Hazard ratio</text>
<text x="174.90" y="447.90">HR</text>
<text x="192.80" y="447.90">95% CI</text>
<text x="0.35" y="462.80">Low</text>
<text x="77.10" y="462.80" text-anchor="end">169</text>
<text x="0.35" y="470.20">Average</text>
<text x="77.10" y="470.20" text-anchor="end">388</text>
<text x="0.35" y="477.50">High</text>
<text x="77.10" y="477.50" text-anchor="end">190</text>
<line x1="79.60" y1="479.50" x2="167.80" y2="479.50" stroke="#555" stroke-width="0.75"/>
<line x1="79.60" y1="479.50" x2="79.60" y2="482.80" stroke="#555" stroke-width="0.75"/>
<text x="79.60" y="491.30" text-anchor="middle">0.4</text>
<line x1="121.55" y1="479.50" x2="121.55" y2="482.80" stroke="#555" stroke-width="0.75"/>
<text x="121.55" y="491.30" text-anchor="middle">0.75</text>
<line x1="140.74" y1="479.50" x2="140.74" y2="482.80" stroke="#555" stroke-width="0.75"/>
<text x="140.74" y="491.30" text-anchor="middle">1</text>
<line x1="167.80" y1="479.50" x2="167.80" y2="482.80" stroke="#555" stroke-width="0.75"/>
<text x="167.80" y="491.30" text-anchor="middle">1.5</text>
<line x1="140.74" y1="456.60" x2="140.74" y2="479.50" stroke="#777" stroke-width="0.75"/>
<rect x="137.94" y="457.70" width="5.60" height="5.60" fill="#b3b3b3"/>
<circle cx="140.74" cy="460.50" r="0.45" fill="#555"/>
<text x="170.90" y="462.80">Reference</text>
<rect x="104.86" y="464.60" width="5.80" height="5.80" fill="#a9a9a9"/>
<line x1="93.14" y1="467.50" x2="122.43" y2="467.50" stroke="#7a7a7a" stroke-width="0.8"/>
<circle cx="107.76" cy="467.50" r="0.5" fill="#333"/>
<text x="170.10" y="470.20">0.61 [0.49–0.76]</text>
<rect x="99.15" y="472.60" width="5.80" height="5.80" fill="#cfcfcf"/>
<line x1="84.43" y1="475.50" x2="120.65" y2="475.50" stroke="#7a7a7a" stroke-width="0.8"/>
<circle cx="102.05" cy="475.50" r="0.5" fill="#333"/>
<text x="170.10" y="477.50">0.56 [0.43–0.74]</text>
<text x="175.30" y="491.30"><tspan font-style="italic">P</tspan> = 1.26 × 10<tspan dy="-2.6" font-size="4.6">−5</tspan></text>
<text x="232.60" y="262.30" font-weight="bold" font-size="10">e</text>
<line x1="268.40" y1="264.90" x2="268.40" y2="380.70" stroke="#8a8a8a" stroke-width="0.8"/>
<line x1="268.00" y1="380.30" x2="452.95" y2="380.30" stroke="#8a8a8a" stroke-width="0.8"/>
<line x1="266.20" y1="380.30" x2="268.40" y2="380.30" stroke="#8a8a8a" stroke-width="0.8"/>
<text x="263.80" y="382.60" text-anchor="end">0</text>
<line x1="266.20" y1="351.55" x2="268.40" y2="351.55" stroke="#8a8a8a" stroke-width="0.8"/>
<text x="263.80" y="353.85" text-anchor="end">25</text>
<line x1="266.20" y1="322.80" x2="268.40" y2="322.80" stroke="#8a8a8a" stroke-width="0.8"/>
<text x="263.80" y="325.10" text-anchor="end">50</text>
<line x1="266.20" y1="294.05" x2="268.40" y2="294.05" stroke="#8a8a8a" stroke-width="0.8"/>
<text x="263.80" y="296.35" text-anchor="end">75</text>
<line x1="266.20" y1="265.30" x2="268.40" y2="265.30" stroke="#8a8a8a" stroke-width="0.8"/>
<text x="263.80" y="267.60" text-anchor="end">100</text>
<line x1="268.40" y1="380.30" x2="268.40" y2="382.50" stroke="#8a8a8a" stroke-width="0.8"/>
<text x="268.40" y="389.90" text-anchor="middle">0</text>
<line x1="305.23" y1="380.30" x2="305.23" y2="382.50" stroke="#8a8a8a" stroke-width="0.8"/>
<text x="305.23" y="389.90" text-anchor="middle">1</text>
<line x1="342.06" y1="380.30" x2="342.06" y2="382.50" stroke="#8a8a8a" stroke-width="0.8"/>
<text x="342.06" y="389.90" text-anchor="middle">2</text>
<line x1="378.89" y1="380.30" x2="378.89" y2="382.50" stroke="#8a8a8a" stroke-width="0.8"/>
<text x="378.89" y="389.90" text-anchor="middle">3</text>
<line x1="415.72" y1="380.30" x2="415.72" y2="382.50" stroke="#8a8a8a" stroke-width="0.8"/>
<text x="415.72" y="389.90" text-anchor="middle">4</text>
<line x1="452.55" y1="380.30" x2="452.55" y2="382.50" stroke="#8a8a8a" stroke-width="0.8"/>
<text x="452.55" y="389.90" text-anchor="middle">5</text>
<text x="360.47" y="399.80" text-anchor="middle">Time since start of IO treatment (years)</text>
<text x="247.10" y="322.50" text-anchor="middle" transform="rotate(-90 247.10 322.50)">Patients surviving (%)</text>
<text x="312.30" y="277.60">Thymic health</text>
<line x1="312.00" y1="284.70" x2="318.30" y2="284.70" stroke="#d63a4e" stroke-width="1.0"/>
<text x="320.60" y="287.00">High</text>
<line x1="312.00" y1="292.50" x2="318.30" y2="292.50" stroke="#f4a582" stroke-width="1.0"/>
<text x="320.60" y="294.80">Average</text>
<line x1="312.00" y1="300.40" x2="318.30" y2="300.40" stroke="#2f7fc0" stroke-width="1.0"/>
<text x="320.60" y="302.70">Low</text>
<text x="271.30" y="359.20"><tspan font-style="italic">n</tspan> = 407</text>
<text x="271.30" y="367.50">HR high: 0.52 (95% CI, 0.34–0.80)</text>
<text x="271.30" y="375.80">HR average: 0.57 (95% CI, 0.41–0.79)</text>
<text x="383.60" y="371.90"><tspan font-style="italic">P</tspan> = 0.0015</text>
<polyline points="268.4,265.3 270.8,267.9 273.3,271.5 276.3,274.1 278.8,276.7 280.7,279.6 283.6,281.8 286.5,284.0 288.7,286.2 290.9,289.1 293.1,290.9 295.3,292.8 298.1,296.5 302.2,299.8 306.3,305.9 310.4,312.0 314.4,315.2 318.5,317.7 322.6,322.6 325.8,325.0 330.7,326.2 334.8,328.3 340.2,329.8 348.8,332.0 360.9,332.0 361.6,336.2 367.1,336.9 367.8,339.1 369.3,339.5 370.0,342.4 373.7,342.7 375.1,346.0 420.4,346.0 420.7,380.3" fill="none" stroke="#f4a582" stroke-width="1.0" stroke-linejoin="round"/>
<polyline points="268.4,265.3 272.6,265.3 273.0,266.0 275.2,266.4 275.5,267.9 281.4,268.2 282.1,269.3 283.2,273.7 284.3,275.9 285.8,278.5 286.1,280.3 287.6,280.7 288.0,282.5 288.3,284.0 290.2,285.8 291.3,286.9 292.4,290.9 292.4,295.3 296.1,295.3 296.5,297.3 299.0,297.7 299.4,303.4 306.3,303.4 307.1,305.5 308.7,308.3 311.6,308.6 312.0,310.4 317.3,310.4 317.7,313.2 327.5,313.2 327.9,316.1 328.7,318.3 332.3,318.5 332.5,322.2 343.0,322.2 343.8,325.1 350.2,325.5 350.9,330.6 368.1,330.8 368.6,337.6 374.0,337.6 374.4,345.4 389.4,345.4 389.7,356.6 400.7,356.6" fill="none" stroke="#d63a4e" stroke-width="1.0" stroke-linejoin="round"/>
<polyline points="268.4,265.3 269.7,269.3 270.8,274.5 272.6,276.7 274.8,279.6 275.9,282.5 276.6,285.4 277.4,286.9 279.9,287.3 281.4,289.1 282.5,292.0 283.6,295.0 284.7,298.0 287.0,301.0 288.5,304.0 290.4,309.1 294.1,314.4 298.1,318.1 300.2,318.5 301.4,323.4 303.4,325.8 304.3,329.1 305.3,334.1 309.5,336.2 313.1,338.4 315.2,342.7 317.4,344.1 328.1,344.1 329.5,346.9 331.6,349.4 338.8,349.8 339.5,351.6 357.3,351.6 358.0,355.5 380.2,355.6 380.7,360.5 452.5,360.5" fill="none" stroke="#2f7fc0" stroke-width="1.0" stroke-linejoin="round"/>
<text x="259.50" y="409.30">At risk</text>
<text x="255.80" y="419.70" text-anchor="end">High</text>
<text x="268.40" y="419.70" text-anchor="middle">83</text>
<text x="305.23" y="419.70" text-anchor="middle">34</text>
<text x="342.06" y="419.70" text-anchor="middle">17</text>
<text x="378.89" y="419.70" text-anchor="middle">5</text>
<text x="415.72" y="419.70" text-anchor="middle">0</text>
<text x="452.55" y="419.70" text-anchor="middle">0</text>
<text x="255.80" y="427.35" text-anchor="end">Average</text>
<text x="268.40" y="427.35" text-anchor="middle">224</text>
<text x="305.23" y="427.35" text-anchor="middle">96</text>
<text x="342.06" y="427.35" text-anchor="middle">34</text>
<text x="378.89" y="427.35" text-anchor="middle">10</text>
<text x="415.72" y="427.35" text-anchor="middle">4</text>
<text x="452.55" y="427.35" text-anchor="middle">0</text>
<text x="255.80" y="435.00" text-anchor="end">Low</text>
<text x="268.40" y="435.00" text-anchor="middle">100</text>
<text x="305.23" y="435.00" text-anchor="middle">29</text>
<text x="342.06" y="435.00" text-anchor="middle">11</text>
<text x="378.89" y="435.00" text-anchor="middle">5</text>
<text x="415.72" y="435.00" text-anchor="middle">2</text>
<text x="452.55" y="435.00" text-anchor="middle">1</text>
<text x="232.35" y="447.90">Thymic health</text>
<text x="309.10" y="447.90" text-anchor="end">Number</text>
<text x="354.80" y="447.90" text-anchor="middle">Hazard ratio</text>
<text x="406.90" y="447.90">HR</text>
<text x="424.80" y="447.90">95% CI</text>
<text x="232.35" y="462.80">Low</text>
<text x="309.10" y="462.80" text-anchor="end">70</text>
<text x="232.35" y="470.20">Average</text>
<text x="309.10" y="470.20" text-anchor="end">181</text>
<text x="232.35" y="477.50">High</text>
<text x="309.10" y="477.50" text-anchor="end">70</text>
<line x1="311.60" y1="479.50" x2="399.80" y2="479.50" stroke="#555" stroke-width="0.75"/>
<line x1="311.60" y1="479.50" x2="311.60" y2="482.80" stroke="#555" stroke-width="0.75"/>
<text x="311.60" y="491.30" text-anchor="middle">0.4</text>
<line x1="353.55" y1="479.50" x2="353.55" y2="482.80" stroke="#555" stroke-width="0.75"/>
<text x="353.55" y="491.30" text-anchor="middle">0.75</text>
<line x1="372.74" y1="479.50" x2="372.74" y2="482.80" stroke="#555" stroke-width="0.75"/>
<text x="372.74" y="491.30" text-anchor="middle">1</text>
<line x1="399.80" y1="479.50" x2="399.80" y2="482.80" stroke="#555" stroke-width="0.75"/>
<text x="399.80" y="491.30" text-anchor="middle">1.5</text>
<line x1="372.74" y1="456.60" x2="372.74" y2="479.50" stroke="#777" stroke-width="0.75"/>
<rect x="369.94" y="457.70" width="5.60" height="5.60" fill="#b3b3b3"/>
<circle cx="372.74" cy="460.50" r="0.45" fill="#555"/>
<text x="402.90" y="462.80">Reference</text>
<rect x="326.21" y="464.60" width="5.80" height="5.80" fill="#a9a9a9"/>
<line x1="313.10" y1="467.50" x2="354.43" y2="467.50" stroke="#3a3a3a" stroke-width="0.8"/>
<path d="M311.60,467.50 L314.20,466.30 L314.20,468.70 Z" fill="#3a3a3a"/>
<circle cx="329.11" cy="467.50" r="0.5" fill="#333"/>
<text x="402.10" y="470.20">0.52 [0.36–0.76]</text>
<rect x="332.33" y="472.60" width="5.80" height="5.80" fill="#cfcfcf"/>
<line x1="313.10" y1="475.50" x2="366.45" y2="475.50" stroke="#3a3a3a" stroke-width="0.8"/>
<path d="M311.60,475.50 L314.20,474.30 L314.20,476.70 Z" fill="#3a3a3a"/>
<circle cx="335.23" cy="475.50" r="0.5" fill="#333"/>
<text x="402.10" y="477.50">0.57 [0.35–0.91]</text>
<text x="448.60" y="491.30" text-anchor="end"><tspan font-style="italic">P</tspan> = 0.0045</text>
<text x="463.20" y="262.10" font-weight="bold" font-size="10">f</text>
<line x1="499.10" y1="264.90" x2="499.10" y2="380.70" stroke="#8a8a8a" stroke-width="0.8"/>
<line x1="498.70" y1="380.30" x2="683.65" y2="380.30" stroke="#8a8a8a" stroke-width="0.8"/>
<line x1="496.90" y1="380.30" x2="499.10" y2="380.30" stroke="#8a8a8a" stroke-width="0.8"/>
<text x="494.50" y="382.60" text-anchor="end">0</text>
<line x1="496.90" y1="351.55" x2="499.10" y2="351.55" stroke="#8a8a8a" stroke-width="0.8"/>
<text x="494.50" y="353.85" text-anchor="end">25</text>
<line x1="496.90" y1="322.80" x2="499.10" y2="322.80" stroke="#8a8a8a" stroke-width="0.8"/>
<text x="494.50" y="325.10" text-anchor="end">50</text>
<line x1="496.90" y1="294.05" x2="499.10" y2="294.05" stroke="#8a8a8a" stroke-width="0.8"/>
<text x="494.50" y="296.35" text-anchor="end">75</text>
<line x1="496.90" y1="265.30" x2="499.10" y2="265.30" stroke="#8a8a8a" stroke-width="0.8"/>
<text x="494.50" y="267.60" text-anchor="end">100</text>
<line x1="499.10" y1="380.30" x2="499.10" y2="382.50" stroke="#8a8a8a" stroke-width="0.8"/>
<text x="499.10" y="389.90" text-anchor="middle">0</text>
<line x1="535.93" y1="380.30" x2="535.93" y2="382.50" stroke="#8a8a8a" stroke-width="0.8"/>
<text x="535.93" y="389.90" text-anchor="middle">1</text>
<line x1="572.76" y1="380.30" x2="572.76" y2="382.50" stroke="#8a8a8a" stroke-width="0.8"/>
<text x="572.76" y="389.90" text-anchor="middle">2</text>
<line x1="609.59" y1="380.30" x2="609.59" y2="382.50" stroke="#8a8a8a" stroke-width="0.8"/>
<text x="609.59" y="389.90" text-anchor="middle">3</text>
<line x1="646.42" y1="380.30" x2="646.42" y2="382.50" stroke="#8a8a8a" stroke-width="0.8"/>
<text x="646.42" y="389.90" text-anchor="middle">4</text>
<line x1="683.25" y1="380.30" x2="683.25" y2="382.50" stroke="#8a8a8a" stroke-width="0.8"/>
<text x="683.25" y="389.90" text-anchor="middle">5</text>
<text x="591.17" y="399.80" text-anchor="middle">Time since start of IO treatment (years)</text>
<text x="477.80" y="322.50" text-anchor="middle" transform="rotate(-90 477.80 322.50)">Patients surviving (%)</text>
<text x="555.70" y="277.60">Thymic health</text>
<line x1="555.40" y1="284.50" x2="561.70" y2="284.50" stroke="#d63a4e" stroke-width="1.0"/>
<text x="564.00" y="286.80">High</text>
<line x1="555.40" y1="292.50" x2="561.70" y2="292.50" stroke="#f4a582" stroke-width="1.0"/>
<text x="564.00" y="294.80">Average</text>
<line x1="555.40" y1="300.40" x2="561.70" y2="300.40" stroke="#2f7fc0" stroke-width="1.0"/>
<text x="564.00" y="302.70">Low</text>
<text x="502.00" y="359.20"><tspan font-style="italic">n</tspan> = 245</text>
<text x="502.00" y="367.50">HR high: 0.47 (95% CI, 0.30–0.73)</text>
<text x="502.00" y="375.80">HR average: 0.58 (95% CI, 0.39–0.86)</text>
<text x="616.20" y="371.80"><tspan font-style="italic">P</tspan> = 0.0041</text>
<polyline points="499.1,265.3 501.2,270.4 503.1,275.6 507.0,280.8 509.6,286.0 513.6,289.3 516.8,291.9 518.1,296.5 521.4,301.0 525.3,305.6 529.2,307.5 534.4,309.5 538.3,310.8 540.9,314.1 543.7,316.0 547.1,318.0 551.1,320.0 555.1,322.7 559.2,327.4 560.0,327.9 577.7,328.1 578.3,329.3 583.8,329.6 585.0,332.0 586.9,333.0 593.0,333.2 594.8,336.0 603.4,336.4 604.6,338.5 607.6,338.8 610.1,340.3 611.3,342.1 617.4,342.5 618.4,345.0 638.2,344.9 638.5,350.7 683.0,350.7" fill="none" stroke="#f4a582" stroke-width="1.0" stroke-linejoin="round"/>
<polyline points="499.1,265.3 501.2,267.1 503.1,269.1 505.7,270.4 507.0,273.0 509.6,276.3 512.3,282.1 514.9,288.0 518.8,288.6 521.4,289.9 524.0,291.2 527.9,294.5 531.2,296.5 535.1,299.1 545.5,299.1 547.5,303.0 550.1,308.8 552.7,311.5 555.9,315.4 564.3,315.6 565.5,318.3 567.3,321.7 575.3,321.7 575.9,323.5 580.2,323.8 580.8,325.9 593.0,325.9 594.0,328.7 603.4,328.7 604.0,331.8 608.3,332.0 608.9,336.6 609.5,339.9 644.9,340.1 645.1,347.8 683.0,347.8" fill="none" stroke="#d63a4e" stroke-width="1.0" stroke-linejoin="round"/>
<polyline points="499.1,265.3 499.5,269.7 499.9,274.3 501.2,274.9 502.5,284.1 503.1,289.9 505.1,295.8 507.0,301.0 509.0,305.6 510.9,310.2 512.1,315.0 514.9,317.3 516.2,318.5 516.8,322.0 520.2,322.7 521.5,326.1 524.9,326.8 526.9,330.8 529.6,334.1 540.4,334.1 541.0,336.2 543.7,336.8 545.1,340.9 547.1,343.6 548.4,346.6 557.2,346.9 557.8,349.4 575.3,349.5 576.5,352.5 578.3,354.7 607.0,354.7 607.9,358.4 683.0,358.4" fill="none" stroke="#2f7fc0" stroke-width="1.0" stroke-linejoin="round"/>
<text x="490.20" y="409.30">At risk</text>
<text x="487.50" y="419.70" text-anchor="end">High</text>
<text x="499.10" y="419.70" text-anchor="middle">74</text>
<text x="535.93" y="419.70" text-anchor="middle">46</text>
<text x="572.76" y="419.70" text-anchor="middle">29</text>
<text x="609.59" y="419.70" text-anchor="middle">10</text>
<text x="646.42" y="419.70" text-anchor="middle">4</text>
<text x="683.25" y="419.70" text-anchor="middle">1</text>
<text x="487.50" y="427.35" text-anchor="end">Average</text>
<text x="499.10" y="427.35" text-anchor="middle">121</text>
<text x="535.93" y="427.35" text-anchor="middle">66</text>
<text x="572.76" y="427.35" text-anchor="middle">44</text>
<text x="609.59" y="427.35" text-anchor="middle">20</text>
<text x="646.42" y="427.35" text-anchor="middle">3</text>
<text x="683.25" y="427.35" text-anchor="middle">1</text>
<text x="487.50" y="435.00" text-anchor="end">Low</text>
<text x="499.10" y="435.00" text-anchor="middle">50</text>
<text x="535.93" y="435.00" text-anchor="middle">18</text>
<text x="572.76" y="435.00" text-anchor="middle">11</text>
<text x="609.59" y="435.00" text-anchor="middle">6</text>
<text x="646.42" y="435.00" text-anchor="middle">2</text>
<text x="683.25" y="435.00" text-anchor="middle">1</text>
<text x="463.05" y="447.90">Thymic health</text>
<text x="538.30" y="447.90" text-anchor="end">Number</text>
<text x="584.00" y="447.90" text-anchor="middle">Hazard ratio</text>
<text x="636.10" y="447.90">HR</text>
<text x="654.00" y="447.90">95% CI</text>
<text x="463.05" y="462.80">Low</text>
<text x="538.30" y="462.80" text-anchor="end">35</text>
<text x="463.05" y="470.20">Average</text>
<text x="538.30" y="470.20" text-anchor="end">89</text>
<text x="463.05" y="477.50">High</text>
<text x="538.30" y="477.50" text-anchor="end">57</text>
<line x1="540.80" y1="479.50" x2="629.00" y2="479.50" stroke="#555" stroke-width="0.75"/>
<line x1="540.80" y1="479.50" x2="540.80" y2="482.80" stroke="#555" stroke-width="0.75"/>
<text x="540.80" y="491.30" text-anchor="middle">0.4</text>
<line x1="582.75" y1="479.50" x2="582.75" y2="482.80" stroke="#555" stroke-width="0.75"/>
<text x="582.75" y="491.30" text-anchor="middle">0.75</text>
<line x1="601.94" y1="479.50" x2="601.94" y2="482.80" stroke="#555" stroke-width="0.75"/>
<text x="601.94" y="491.30" text-anchor="middle">1</text>
<line x1="629.00" y1="479.50" x2="629.00" y2="482.80" stroke="#555" stroke-width="0.75"/>
<text x="629.00" y="491.30" text-anchor="middle">1.5</text>
<line x1="601.94" y1="456.60" x2="601.94" y2="479.50" stroke="#777" stroke-width="0.75"/>
<rect x="599.14" y="457.70" width="5.60" height="5.60" fill="#b3b3b3"/>
<circle cx="601.94" cy="460.50" r="0.45" fill="#555"/>
<text x="632.10" y="462.80">Reference</text>
<rect x="556.68" y="464.60" width="5.80" height="5.80" fill="#a9a9a9"/>
<line x1="542.30" y1="467.50" x2="592.65" y2="467.50" stroke="#c4c4c4" stroke-width="0.8"/>
<path d="M540.80,467.50 L543.40,466.30 L543.40,468.70 Z" fill="#3a3a3a"/>
<circle cx="559.58" cy="467.50" r="0.5" fill="#333"/>
<text x="631.30" y="470.20">0.53 [0.32–0.87]</text>
<rect x="555.41" y="472.60" width="5.80" height="5.80" fill="#cfcfcf"/>
<line x1="542.30" y1="475.50" x2="596.38" y2="475.50" stroke="#3a3a3a" stroke-width="0.8"/>
<path d="M540.80,475.50 L543.40,474.30 L543.40,476.70 Z" fill="#3a3a3a"/>
<circle cx="558.31" cy="475.50" r="0.5" fill="#333"/>
<text x="631.30" y="477.50">0.52 [0.29–0.92]</text>
<text x="677.80" y="491.30" text-anchor="end"><tspan font-style="italic">P</tspan> = 0.0036</text>
</svg></body></html>
